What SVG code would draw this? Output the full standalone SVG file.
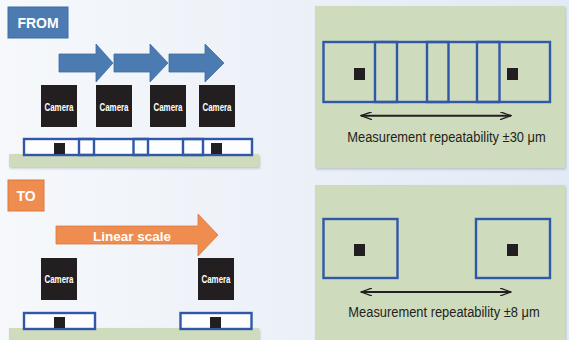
<svg xmlns="http://www.w3.org/2000/svg" width="569" height="340" viewBox="0 0 569 340">
<defs>
<linearGradient id="bg" x1="0" y1="0" x2="1" y2="0">
<stop offset="0" stop-color="#f6f8fb"/>
<stop offset="1" stop-color="#e2eaf5"/>
</linearGradient>
<filter id="sh" x="-5%" y="-20%" width="115%" height="150%">
<feDropShadow dx="1" dy="1.5" stdDeviation="1" flood-color="#8a94a3" flood-opacity="0.5"/>
</filter>
<marker id="ah" markerWidth="12" markerHeight="8" refX="11" refY="4" orient="auto-start-reverse" markerUnits="userSpaceOnUse">
<path d="M0,0 L11,4 L0,8" fill="none" stroke="#231f20" stroke-width="1.3"/>
</marker>
</defs>
<style>
.panel{fill:#cfdbbd;}
.base{fill:#cfdbbd;}
.fr{fill:none;stroke:#2f58a8;stroke-width:2.4;}
.dot{fill:#231f20;}
.cam{fill:#231f20;}
.camt{fill:#ffffff;font-family:"Liberation Sans",Arial,sans-serif;font-weight:bold;font-size:10px;text-anchor:middle;}
.barr{fill:#4b7bb1;stroke:#3d6ca2;stroke-width:0.8;}
.oarr{fill:#ef8d50;stroke:#d97a3f;stroke-width:0.8;}
.lbl{fill:#ffffff;font-family:"Liberation Sans",Arial,sans-serif;font-weight:bold;text-anchor:middle;}
.meas{fill:#231f20;font-family:"Liberation Sans",Arial,sans-serif;font-size:15px;text-anchor:middle;}
.dim{stroke:#231f20;stroke-width:2;fill:none;}
</style>
<rect x="0" y="0" width="569" height="340" fill="url(#bg)"/>

<!-- FROM section -->
<g id="from-tag">
<rect x="8" y="7" width="60" height="31" fill="#4b7bb1" stroke="#3d6ca2" stroke-width="1"/>
<text class="lbl" x="38" y="28" font-size="14">FROM</text>
</g>
<g id="from-arrows">
<path class="barr" d="M59,54 H96 V44 L113,63 L96,82 V72 H59 Z"/>
<path class="barr" d="M114,54 H150 V44 L168,63 L150,82 V72 H114 Z"/>
<path class="barr" d="M169,54 H205 V44 L224,63 L205,82 V72 H169 Z"/>
</g>
<g id="from-base">
<rect class="base" x="9" y="154" width="250" height="13" filter="url(#sh)"/>
</g>
<g id="from-scale">
<rect x="24" y="139" width="228" height="16" fill="#ffffff" fill-opacity="0.85"/>
<rect class="fr" x="24" y="139" width="70" height="16"/>
<rect class="fr" x="79" y="139" width="69" height="16"/>
<rect class="fr" x="133.5" y="139" width="69.5" height="16"/>
<rect class="fr" x="183" y="139" width="69" height="16"/>
<rect class="dot" x="54" y="143" width="11" height="11"/>
<rect class="dot" x="211" y="143" width="11" height="11"/>
</g>
<g id="from-cam1"><rect class="cam" x="41" y="85" width="36" height="42"/><text class="camt" x="59" y="111" textLength="29" lengthAdjust="spacingAndGlyphs">Camera</text></g>
<g id="from-cam2"><rect class="cam" x="96" y="85" width="36" height="42"/><text class="camt" x="114" y="111" textLength="29" lengthAdjust="spacingAndGlyphs">Camera</text></g>
<g id="from-cam3"><rect class="cam" x="150" y="85" width="36" height="42"/><text class="camt" x="168" y="111" textLength="29" lengthAdjust="spacingAndGlyphs">Camera</text></g>
<g id="from-cam4"><rect class="cam" x="199" y="85" width="36" height="42"/><text class="camt" x="217" y="111" textLength="29" lengthAdjust="spacingAndGlyphs">Camera</text></g>

<g id="from-panel">
<rect class="panel" x="315" y="6" width="250" height="162" filter="url(#sh)"/>
<rect class="fr" x="323.5" y="42" width="73.5" height="60"/>
<rect class="fr" x="375" y="42" width="73.5" height="60"/>
<rect class="fr" x="427" y="42" width="72.5" height="60"/>
<rect class="fr" x="477" y="42" width="73" height="60"/>
<rect class="dot" x="354" y="68" width="11" height="12"/>
<rect class="dot" x="507" y="68" width="11" height="12"/>
<text class="meas" transform="translate(446.5,141.5) scale(0.86,1)" x="0" y="0">Measurement repeatability ±30 μm</text>
</g>

<!-- TO section -->
<g id="to-tag">
<rect x="8" y="180" width="36" height="31" fill="#ef8d50" stroke="#d97a3f" stroke-width="1"/>
<text class="lbl" x="26" y="201" font-size="14">TO</text>
</g>
<g id="to-arrow">
<path class="oarr" d="M56,226 H198 V214 L218,235 L198,256 V244 H56 Z"/>
<text class="lbl" x="132" y="241" font-size="13.5">Linear scale</text>
</g>
<g id="to-base">
<rect class="base" x="9" y="328" width="250" height="16" filter="url(#sh)"/>
</g>
<g id="to-scale1">
<rect x="24" y="313" width="71" height="16" fill="#ffffff" fill-opacity="0.85"/>
<rect class="fr" x="24" y="313" width="71" height="16"/>
<rect class="dot" x="54" y="317" width="11" height="11"/>
</g>
<g id="to-scale2">
<rect x="180.5" y="313" width="71" height="16" fill="#ffffff" fill-opacity="0.85"/>
<rect class="fr" x="180.5" y="313" width="71" height="16"/>
<rect class="dot" x="210" y="317" width="11" height="11"/>
</g>
<g id="to-cam1"><rect class="cam" x="41" y="258" width="36" height="42"/><text class="camt" x="59" y="283" textLength="29" lengthAdjust="spacingAndGlyphs">Camera</text></g>
<g id="to-cam2"><rect class="cam" x="198" y="258" width="36" height="42"/><text class="camt" x="216" y="283" textLength="29" lengthAdjust="spacingAndGlyphs">Camera</text></g>

<g id="to-panel">
<rect class="panel" x="315" y="185" width="250" height="160" filter="url(#sh)"/>
<rect class="fr" x="323.5" y="219" width="74" height="59"/>
<rect class="fr" x="476" y="219" width="74" height="59"/>
<rect class="dot" x="354" y="244" width="11" height="12"/>
<rect class="dot" x="507" y="244" width="11" height="12"/>
<text class="meas" transform="translate(444,317) scale(0.86,1)" x="0" y="0">Measurement repeatability ±8 μm</text>
</g>

<g id="connectors">
<line class="dim" x1="361" y1="115.7" x2="511" y2="115.7" marker-start="url(#ah)" marker-end="url(#ah)"/>
<line class="dim" x1="361" y1="292" x2="511" y2="292" marker-start="url(#ah)" marker-end="url(#ah)"/>
</g>
</svg>
